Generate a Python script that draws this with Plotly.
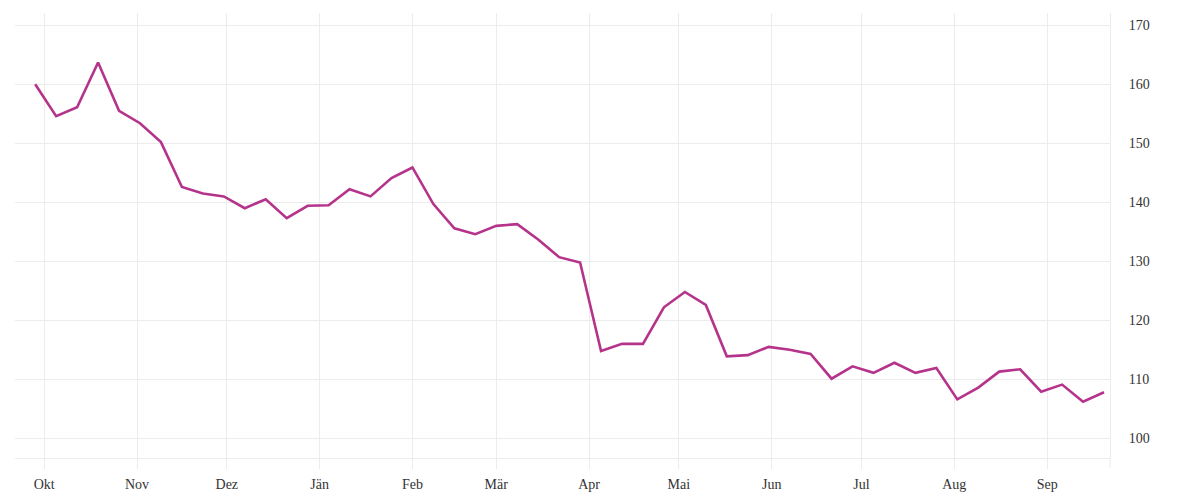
import pandas as pd
import plotly.graph_objects as go

start_date = "2020-09-28"
n_weeks = 52
values = [
    160.0, 154.6, 156.1, 163.7, 155.5, 153.4, 150.2, 142.6, 141.5, 141.0,
    139.0, 140.5, 137.3, 139.4, 139.5, 142.2, 141.0, 144.1, 145.9, 139.7,
    135.6, 134.6, 136.0, 136.3, 133.7, 130.7, 129.8, 114.8, 116.0, 116.0,
    122.2, 124.8, 122.6, 113.9, 114.1, 115.5, 115.0, 114.3, 110.1, 112.2,
    111.1, 112.8, 111.1, 111.9, 106.6, 108.6, 111.3, 111.7, 107.9, 109.1,
    106.2, 107.8,
]
dates = pd.date_range(start_date, periods=n_weeks, freq="7D")

tick_dates = pd.date_range("2020-10-01", "2021-09-01", freq="MS")
tick_labels = ["Okt", "Nov", "Dez", "Jän", "Feb", "Mär", "Apr", "Mai", "Jun", "Jul", "Aug", "Sep"]
y_ticks = [100, 110, 120, 130, 140, 150, 160, 170]

grid = "#ececec"
font = dict(family="Liberation Serif", size=14, color="#333333")

fig = go.Figure()
fig.add_trace(go.Scatter(
    x=dates, y=values, mode="lines",
    line=dict(color="#b5338a", width=2.6),
    hoverinfo="x+y", showlegend=False,
))

fig.update_layout(
    width=1200, height=500,
    margin=dict(l=15, r=90, t=13, b=42, autoexpand=False),
    paper_bgcolor="white", plot_bgcolor="white",
    font=font,
    xaxis=dict(
        range=["2020-09-21 06:00", "2021-09-22"],
        tickvals=tick_dates, ticktext=tick_labels,
        showgrid=True, gridcolor=grid, gridwidth=1,
        ticks="outside", ticklen=10, tickcolor=grid, tickwidth=1,
        showline=True, linecolor=grid, linewidth=1,
        zeroline=False, tickfont=font, ticklabelstandoff=3,
        automargin=False,
    ),
    yaxis=dict(
        side="right",
        range=[96.66, 172.08],
        tickvals=y_ticks,
        showgrid=True, gridcolor=grid, gridwidth=1,
        showline=True, linecolor=grid, linewidth=1,
        ticks="", ticklabelstandoff=15,
        zeroline=False, tickfont=font, automargin=False,
    ),
)
fig.add_shape(type="line", xref="paper", yref="paper", x0=1, x1=1, y0=-0.0225, y1=0,
              line=dict(color=grid, width=1))

fig.write_html("out.html", config={"displayModeBar": False},
               post_script="document.body.style.margin='0';document.body.style.overflow='hidden';")
